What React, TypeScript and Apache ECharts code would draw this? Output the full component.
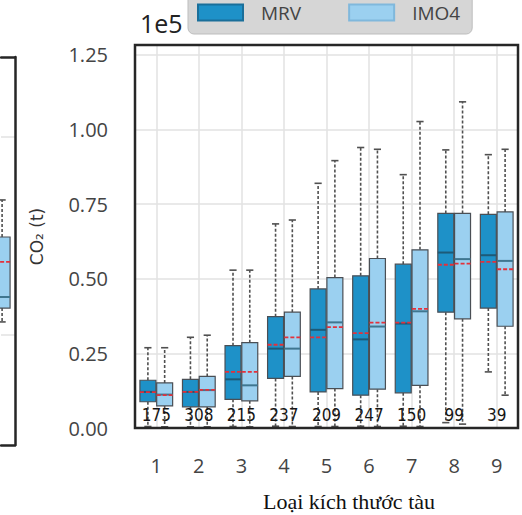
import React, { useEffect, useRef } from "react";
import * as echarts from "echarts";

const categories = ["1", "2", "3", "4", "5", "6", "7", "8", "9"];
const counts = [175, 308, 215, 237, 209, 247, 150, 99, 39];

// MRV statistics (tonnes CO2)
const mrvLow = [500, 400, 500, 600, 500, 600, 600, 1800, 18800];
const mrvQ1 = [8800, 7100, 9600, 16600, 12100, 11000, 11800, 38800, 40200];
const mrvMedian = [12100, 12100, 16300, 26600, 32900, 29700, 35000, 58800, 57900];
const mrvQ3 = [16000, 16300, 27600, 37300, 46600, 51000, 54900, 71900, 71600];
const mrvHigh = [26900, 30400, 52900, 68400, 82000, 94000, 84900, 93200, 91600];
const mrvMean = [12000, 12100, 18800, 27900, 30400, 31800, 35300, 54700, 55700];

// IMO4 statistics (tonnes CO2)
const imoLow = [400, 400, 400, 500, 500, 500, 500, 1300, 11000];
const imoQ1 = [7400, 7100, 9100, 17300, 13200, 13000, 14300, 36600, 34100];
const imoMedian = [11200, 12700, 14300, 26600, 35400, 34000, 39100, 56600, 56000];
const imoQ3 = [15100, 17300, 28600, 38800, 50400, 56800, 59700, 71900, 72400];
const imoHigh = [26900, 31100, 52900, 69700, 89600, 93400, 102700, 109300, 93400];
const imoMean = [11000, 12800, 18800, 30400, 33800, 35300, 39900, 55100, 53200];

// Neighbouring panel (only its right edge is visible): last IMO4 box, category index 8
const sideIndex = [8];
const sideLow = [1.066];
const sideQ1 = [1.136];
const sideMedian = [1.192];
const sideQ3 = [1.495];
const sideHigh = [1.682];
const sideMean = [1.369];
const sideGridValues = [1, 2];

const yTicks = [0, 25000, 50000, 75000, 100000, 125000];

const MRV_COLOR = "#1e91c8";
const IMO_COLOR = "#9bd0f0";
const FRAME = { color: "#262626", width: 2.5 };

function makeBoxData(xs: number[], low: number[], q1: number[], med: number[], q3: number[], high: number[], mean: number[]) {
  return low.map((_, i) => [xs[i], low[i], q1[i], med[i], q3[i], high[i], mean[i]]);
}

function boxRenderer(sign: number, fill: string, medianColor: string) {
  return (params: any, api: any) => {
    const x = api.value(0);
    const band = api.size([1, 0])[0];
    const cx = api.coord([x, 0])[0] + sign * band * 0.197;
    const w = band * 0.375;
    const capW = w * 0.45;
    const yLow = api.coord([x, api.value(1)])[1];
    const yQ1 = api.coord([x, api.value(2)])[1];
    const yMed = api.coord([x, api.value(3)])[1];
    const yQ3 = api.coord([x, api.value(4)])[1];
    const yHigh = api.coord([x, api.value(5)])[1];
    const yMean = api.coord([x, api.value(6)])[1];
    const whisker = { stroke: "#505050", lineWidth: 1.6, lineDash: [3, 2] };
    const cap = { stroke: "#505050", lineWidth: 1.6 };
    return {
      type: "group",
      children: [
        { type: "line", shape: { x1: cx, y1: yQ3, x2: cx, y2: yHigh }, style: whisker },
        { type: "line", shape: { x1: cx, y1: yQ1, x2: cx, y2: yLow }, style: whisker },
        { type: "line", shape: { x1: cx - capW / 2, y1: yHigh, x2: cx + capW / 2, y2: yHigh }, style: cap },
        { type: "line", shape: { x1: cx - capW / 2, y1: yLow, x2: cx + capW / 2, y2: yLow }, style: cap },
        {
          type: "rect",
          shape: { x: cx - w / 2, y: yQ3, width: w, height: yQ1 - yQ3 },
          style: { fill, stroke: "#4a4f55", lineWidth: 1.2 },
        },
        { type: "line", shape: { x1: cx - w / 2, y1: yMed, x2: cx + w / 2, y2: yMed }, style: { stroke: medianColor, lineWidth: 2 } },
        {
          type: "line",
          shape: { x1: cx - w / 2, y1: yMean, x2: cx + w / 2, y2: yMean },
          style: { stroke: "#e3313b", lineWidth: 1.8, lineDash: [4, 2] },
        },
      ],
    };
  };
}

const frameAxisOff = {
  axisTick: { show: false },
  axisLabel: { show: false },
  splitLine: { show: false },
};

export default function App() {
  const ref = useRef<HTMLDivElement>(null);
  useEffect(() => {
    if (!ref.current) return;
    const chart = echarts.init(ref.current, null, { renderer: "svg" });
    const tickFont = "Open Sans";
    const mainGrid = { left: 135, right: 4, top: 45, bottom: 87 };
    const mainIdx = categories.map((_, i) => i);
    chart.setOption({
      animation: false,
      backgroundColor: "#ffffff",
      legend: {
        data: ["MRV", "IMO4"],
        left: 188,
        top: -14,
        icon: "rect",
        itemWidth: 45,
        itemHeight: 16,
        itemGap: 47,
        padding: [17, 12, 12, 9],
        backgroundColor: "#d6d6d6",
        borderColor: "#bdbdbd",
        borderWidth: 1,
        borderRadius: 6,
        textStyle: { fontFamily: tickFont, fontSize: 19, color: "#444", padding: [0, 0, 0, 13] },
      },
      graphic: [
        {
          type: "text",
          left: 140,
          top: 10,
          style: { text: "1e5", font: "25px 'Open Sans'", fill: "#222" },
        },
      ],
      grid: [
        { ...mainGrid, outerBoundsMode: "none", show: false },
        { left: 1, width: 14, top: 57, height: 388, outerBoundsMode: "none", show: false },
        {
          ...mainGrid,
          outerBoundsMode: "none",
          show: true,
          z: 10,
          borderColor: FRAME.color,
          borderWidth: FRAME.width,
          backgroundColor: "transparent",
        },
      ],
      xAxis: [
        {
          type: "category",
          data: categories,
          gridIndex: 0,
          boundaryGap: true,
          name: "Loại kích thước tàu",
          nameLocation: "middle",
          nameGap: 61,
          nameTextStyle: {
            fontFamily: "'Liberation Serif', serif",
            fontSize: 22,
            lineHeight: 24,
            color: "#111",
            padding: [0, 0, 0, 45],
          },
          axisLine: { show: false },
          axisTick: { show: false },
          axisLabel: { fontFamily: tickFont, fontSize: 20, color: "#444", margin: 27 },
          splitLine: { show: true, alignWithLabel: true, lineStyle: { color: "#e2e2e2", width: 1.5 } },
        },
        {
          type: "value",
          gridIndex: 1,
          min: 8.1714,
          max: 8.5,
          position: "bottom",
          z: 10,
          axisLine: { show: true, onZero: false, lineStyle: FRAME },
          ...frameAxisOff,
        },
        {
          type: "value",
          gridIndex: 1,
          min: 8.1714,
          max: 8.5,
          position: "top",
          z: 10,
          axisLine: { show: true, onZero: false, lineStyle: FRAME },
          ...frameAxisOff,
        },
        { type: "category", data: categories, gridIndex: 2, show: false },
      ],
      yAxis: [
        {
          type: "value",
          gridIndex: 0,
          min: 0,
          max: 128350,
          interval: 25000,
          name: "CO₂ (t)",
          nameLocation: "middle",
          nameGap: 90,
          nameTextStyle: { fontFamily: "'DejaVu Sans', sans-serif", fontSize: 17, color: "#333" },
          axisLine: { show: false },
          axisTick: { show: false },
          axisLabel: {
            fontFamily: tickFont,
            fontSize: 20,
            color: "#444",
            margin: 27,
            formatter: (v: number) => (yTicks.includes(v) ? (v / 1e5).toFixed(2) : ""),
          },
          splitLine: { show: true, lineStyle: { color: "#e2e2e2", width: 1.5 } },
        },
        {
          type: "value",
          gridIndex: 1,
          min: 0.4444,
          max: 2.404,
          position: "right",
          z: 10,
          axisLine: { show: true, onZero: false, lineStyle: FRAME },
          ...frameAxisOff,
        },
        { type: "value", gridIndex: 2, min: 0, max: 128350, show: false },
      ],
      series: [
        {
          name: "MRV",
          type: "custom",
          xAxisIndex: 0,
          yAxisIndex: 0,
          itemStyle: { color: MRV_COLOR, borderColor: "#1a6f9a", borderWidth: 1 },
          encode: { x: 0, y: [1, 2, 3, 4, 5, 6] },
          data: makeBoxData(mainIdx, mrvLow, mrvQ1, mrvMedian, mrvQ3, mrvHigh, mrvMean),
          renderItem: boxRenderer(-1, MRV_COLOR, "#1d5a78"),
          z: 3,
        },
        {
          name: "IMO4",
          type: "custom",
          xAxisIndex: 0,
          yAxisIndex: 0,
          itemStyle: { color: IMO_COLOR, borderColor: "#80b8dc", borderWidth: 1 },
          encode: { x: 0, y: [1, 2, 3, 4, 5, 6] },
          data: makeBoxData(mainIdx, imoLow, imoQ1, imoMedian, imoQ3, imoHigh, imoMean),
          renderItem: boxRenderer(1, IMO_COLOR, "#3f7690"),
          z: 3,
        },
        {
          name: "counts",
          type: "custom",
          xAxisIndex: 0,
          yAxisIndex: 0,
          encode: { x: 0 },
          data: counts.map((c, i) => [i, c]),
          renderItem: (params: any, api: any) => {
            const p = api.coord([api.value(0), 0]);
            return {
              type: "text",
              z2: 10,
              style: {
                text: String(api.value(1)),
                x: p[0],
                y: p[1] - 13,
                align: "center",
                verticalAlign: "middle",
                fill: "#151515",
                font: "17px 'Liberation Sans Narrow', 'DejaVu Sans Condensed', sans-serif",
              },
            };
          },
          z: 5,
        },
        {
          name: "IMO4",
          type: "custom",
          xAxisIndex: 1,
          yAxisIndex: 1,
          clip: false,
          itemStyle: { color: IMO_COLOR, borderColor: "#80b8dc", borderWidth: 1 },
          encode: { x: 0, y: [1, 2, 3, 4, 5, 6] },
          data: makeBoxData(sideIndex, sideLow, sideQ1, sideMedian, sideQ3, sideHigh, sideMean),
          renderItem: boxRenderer(1, IMO_COLOR, "#3f7690"),
          markLine: {
            silent: true,
            symbol: "none",
            label: { show: false },
            lineStyle: { color: "#e2e2e2", width: 1.5, type: "solid" },
            data: sideGridValues.map((v) => ({ yAxis: v })),
          },
          z: 3,
        },
      ],
    });
    return () => chart.dispose();
  }, []);
  return <div ref={ref} style={{ width: 522, height: 515, position: "absolute", left: 0, top: 0 }} />;
}
